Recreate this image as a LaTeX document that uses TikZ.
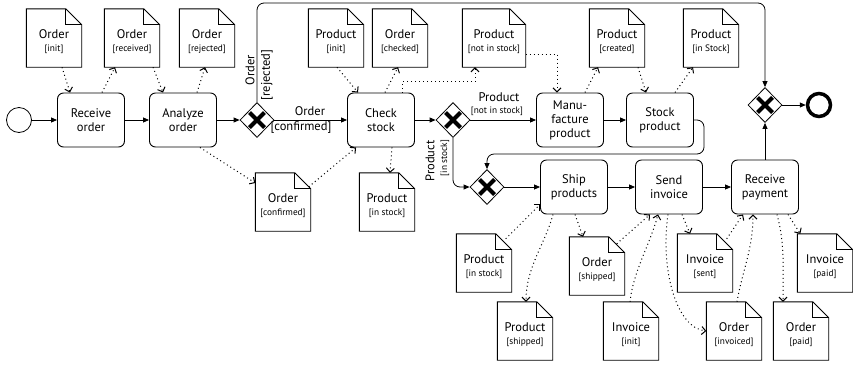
\documentclass[tikz,border=0pt]{standalone}
\usepackage{fontspec}
\setmainfont{PT Sans}
\usetikzlibrary{arrows.meta,shapes.geometric}

% Data object: a sheet with a folded top-right corner and a two-line caption
% #1 width, #2 name, #3 x, #4 y, #5 title, #6 state
\newcommand\docnode[6][55]{%
  \node[docbox, minimum width=#1pt] (#2) at (#3,#4) {};
  \node[doctext] (#2t) at ([yshift=-4pt]#2.center)
    {#5\\[-1pt]{\fontsize{9.3}{10}\selectfont[#6]}};
  \draw[docline] (#2.south west) -- (#2.north west) -- ([xshift=-16pt]#2.north east)
    -- ([yshift=-16pt]#2.north east) -- (#2.south east) -- cycle;
  \draw[docline] ([xshift=-16pt]#2.north east) |- ([yshift=-16pt]#2.north east);
}

\tikzset{
  every node/.style={font=\fontsize{12.5}{14}\selectfont},
  task/.style={draw, rounded corners=6pt, minimum width=67pt, minimum height=54pt,
    align=center, line width=0.9pt, inner sep=1pt},
  gateway/.style={diamond, draw, line width=0.8pt, minimum width=34pt, minimum height=35pt,
    inner sep=0pt, fill=white,
    path picture={
      \draw[line width=4pt]
        ([xshift=-7.5pt,yshift=-7.5pt]path picture bounding box.center) --
        ([xshift=7.5pt,yshift=7.5pt]path picture bounding box.center)
        ([xshift=-7.5pt,yshift=7.5pt]path picture bounding box.center) --
        ([xshift=7.5pt,yshift=-7.5pt]path picture bounding box.center);}},
  startev/.style={circle, draw, line width=0.8pt, minimum size=25pt, inner sep=0pt},
  endev/.style={circle, draw, line width=3.5pt, minimum size=23pt, inner sep=0pt},
  docbox/.style={rectangle, minimum height=58pt, inner sep=0pt},
  doctext/.style={align=center, inner sep=0pt},
  docline/.style={line width=0.9pt},
  seqflow/.style={line width=0.8pt, -{Triangle[length=6pt,width=5pt]}},
  assoc/.style={line width=1pt, dash pattern=on 1pt off 3pt,
    -{Straight Barb[length=4pt,width=8pt]}},
  flowlbl/.style={inner sep=0pt},
  smalllbl/.style={inner sep=0pt, font=\fontsize{9.3}{10}\selectfont},
}

\begin{document}
\begin{tikzpicture}[x=1pt, y=-1pt]
\useasboundingbox (0,0) rectangle (853,365);

% ---- activities, gateways and events ----
\node[startev] (start) at (19,120) {};
\node[task] (recv) at (91,120) {Receive\\order};
\node[task] (anl) at (183,120) {Analyze\\order};
\node[gateway] (gw1) at (257,120) {};
\node[task] (chk) at (381,120) {Check\\stock};
\node[gateway] (gw2) at (453,120) {};
\node[task] (manu) at (570,120) {Manu-\\facture\\product};
\node[task] (stock) at (660,120) {Stock\\product};
\node[gateway] (gwe) at (765,105) {};
\node[endev] (end) at (819,105) {};
\node[gateway] (gw3) at (487,187) {};
\node[task] (ship) at (574,187) {Ship\\products};
\node[task] (send) at (669,187) {Send\\invoice};
\node[task] (pay) at (765,187) {Receive\\payment};

% ---- data objects ----
\docnode{dInit}{54}{38}{Order}{init}
\docnode{dRecv}{132}{38}{Order}{received}
\docnode{dRej}{207}{38}{Order}{rejected}
\docnode{dPinit}{336}{38}{Product}{init}
\docnode{dChecked}{400}{38}{Order}{checked}
\docnode[63]{dNis}{494}{38}{Product}{not in stock}
\docnode{dCreated}{617}{38}{Product}{created}
\docnode{dInStock}{711}{38}{Product}{in Stock}
\docnode{dConf}{283}{202}{Order}{confirmed}
\docnode{dPis}{387}{202}{Product}{in stock}
\docnode{dBPis}{484}{263}{Product}{in stock}
\docnode{dShipped}{525}{331}{Product}{shipped}
\docnode{dOShipped}{597}{266}{Order}{shipped}
\docnode{dIinit}{631}{331}{Invoice}{init}
\docnode{dIsent}{705}{263}{Invoice}{sent}
\docnode{dInvoiced}{734}{331}{Order}{invoiced}
\docnode{dIpaid}{825}{263}{Invoice}{paid}
\docnode{dOpaid}{801}{331}{Order}{paid}

% ---- sequence flows ----
\coordinate (topline) at (0,3);
\coordinate (retline) at (704,154);
\draw[seqflow] (start) -- (recv);
\draw[seqflow] (recv) -- (anl);
\draw[seqflow] (anl) -- (gw1);
\draw[seqflow] (gw1) -- (chk);
\draw[seqflow] (chk) -- (gw2);
\draw[seqflow] (gw2) -- (manu);
\draw[seqflow] (manu) -- (stock);
\draw[seqflow] (gw3) -- (ship);
\draw[seqflow] (ship) -- (send);
\draw[seqflow] (send) -- (pay);
\draw[seqflow] (pay) -- (gwe);
\draw[seqflow] (gwe) -- (end);
\draw[seqflow, rounded corners=7pt] (gw1.north) |- (gwe.north |- topline) -- (gwe.north);
\draw[seqflow, rounded corners=7pt] (stock.east) -| (retline) -| (gw3.north);
\draw[seqflow, rounded corners=7pt] (gw2.south) |- (gw3.west);

% ---- flow conditions ----
\node[flowlbl] (lblA1) at (310,111) {Order};
\node[flowlbl] (lblA2) at (301,128) {[confirmed]};
\node[flowlbl, rotate=90] (lblB1) at (250,70) {Order};
\node[flowlbl, rotate=90] (lblB2) at (267,75) {[rejected]};
\node[flowlbl] (lblC1) at (499,97) {Product};
\node[smalllbl] (lblC2) at (497,111) {[not in stock]};
\node[flowlbl, rotate=90] (lblD1) at (430,161) {Product};
\node[smalllbl, rotate=90] (lblD2) at (445,158) {[in stock]};

% ---- data associations ----
\draw[assoc] ([xshift=8pt]dInit.south) -- ([xshift=-21pt]recv.north);
\draw[assoc] ([xshift=11pt]recv.north) -- ([xshift=-17pt]dRecv.south);
\draw[assoc] ([xshift=21pt]dRecv.south) -- ([xshift=-20pt]anl.north);
\draw[assoc] ([xshift=14pt]anl.north) -- ([xshift=-2pt]dRej.south);
\draw[assoc] ([xshift=17pt]anl.south) -- ([yshift=19pt]dConf.west);
\draw[assoc] ([xshift=-2pt,yshift=-14pt]dConf.north east) -- ([xshift=9pt]chk.south west);
\draw[assoc] ([xshift=11pt]chk.south) -- ([xshift=3pt]dPis.north);
\draw[assoc] ([xshift=1pt]dPinit.south) -- ([xshift=-23pt]chk.north);
\draw[assoc] ([xshift=4pt]chk.north) -- ([xshift=-2pt]dChecked.south);
\draw[assoc] ([xshift=21pt]chk.north) -- ([xshift=21pt,yshift=11pt]chk.north) -| ([xshift=-19pt]dNis.south);
\draw[assoc] ([yshift=-16pt]dNis.east) -| ([xshift=-13pt]manu.north);
\draw[assoc] ([xshift=15pt]manu.north) -- ([xshift=-19pt]dCreated.south);
\draw[assoc] ([xshift=21pt]dCreated.south) -- ([xshift=-14pt]stock.north);
\draw[assoc] ([xshift=15pt]stock.north) -- ([xshift=-18pt]dInStock.south);

\draw[assoc] ([xshift=-6pt,yshift=-5pt]dBPis.north east) -- ([yshift=10pt]ship.south west);
\draw[assoc] ([xshift=-21pt]ship.south) .. controls +(-8,30) and +(0,-35) .. ([xshift=1pt]dShipped.north);
\draw[assoc] ([xshift=1pt]ship.south) -- ([xshift=-14pt]dOShipped.north);
\draw[assoc] ([xshift=-8pt,yshift=-7pt]dOShipped.north east) -- ([xshift=-19pt]send.south);
\draw[assoc] ([xshift=-1pt]dIinit.north) .. controls +(3,-30) and +(-8,30) .. ([xshift=-11pt]send.south);
\draw[assoc] ([xshift=-1pt]send.south) .. controls +(-8,55) and +(-30,-3) .. (dInvoiced.west);
\draw[assoc] ([xshift=13pt]send.south) -- ([xshift=-15pt]dIsent.north);
\draw[assoc] ([xshift=-6pt,yshift=-5pt]dIsent.north east) -- ([xshift=-22pt]pay.south);
\draw[assoc] ([xshift=3pt]dInvoiced.north) .. controls +(5,-30) and +(0,35) .. ([xshift=-12pt]pay.south);
\draw[assoc] ([xshift=12pt]pay.south) .. controls +(8,30) and +(0,-35) .. ([xshift=-18pt]dOpaid.north);
\draw[assoc] ([xshift=23pt]pay.south) -- ([xshift=3pt]dIpaid.north west);
\end{tikzpicture}
\end{document}
